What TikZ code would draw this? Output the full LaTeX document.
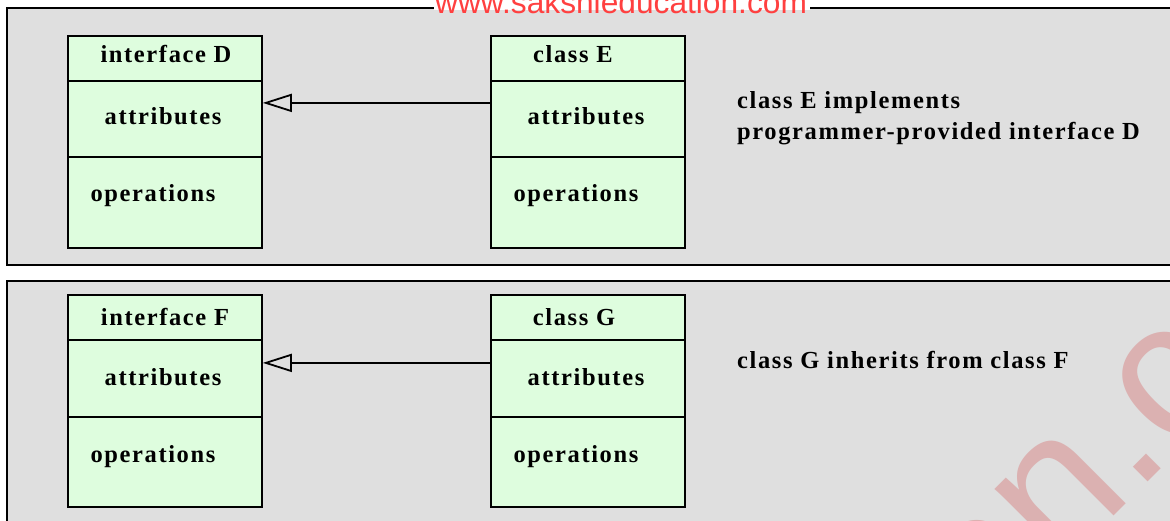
\documentclass[tikz,border=0pt]{standalone}
\usepackage{fontspec}
\setmainfont{Liberation Serif}
\newfontfamily\umlfont{Liberation Serif Bold}[LetterSpace=6.6]
\newfontfamily\wmfont{Liberation Sans}
\usetikzlibrary{arrows.meta}
\definecolor{panelgray}{RGB}{223,223,223}
\definecolor{boxgreen}{RGB}{222,253,222}
\definecolor{wmred}{RGB}{255,64,64}
\definecolor{wmpink}{RGB}{219,177,177}
\tikzset{
  panel/.style={draw=black, line width=2pt, fill=panelgray},
  umlbox/.style={draw=black, line width=1.8pt, fill=boxgreen, rectangle,
    minimum width=194pt, minimum height=212pt, anchor=north west, inner sep=0pt},
  sepline/.style={line width=1.8pt},
  lbl/.style={font=\umlfont\fontsize{24.5}{31}\selectfont, inner sep=0pt},
  note/.style={lbl, anchor=base west, align=left},
  realize/.style={line width=1.8pt, -{Triangle[open, length=29pt, width=18pt]}},
}
\begin{document}
\begin{tikzpicture}[x=1pt, y=-1pt]
\useasboundingbox (0,0) rectangle (1170,521);
% panels
\draw[panel] (7,8) rectangle (1190,265);
\draw[panel] (7,281) rectangle (1190,540);
% top watermark
\fill[white] (434,0) rectangle (810,9.6);
\node[anchor=base west, inner sep=0pt, text=wmred, font=\wmfont\fontsize{31.7}{34}\selectfont] (wmtop) at (435,14) {www.sakshieducation.com};
% big diagonal watermark
\coordinate (wmp) at (1135.5,494.9);
\node[anchor=base east, rotate=45, inner sep=0pt, text=wmpink, font=\wmfont\fontsize{195}{200}\selectfont] (wma) at (wmp) {www.sakshieducation};
\node[anchor=base west, rotate=45, inner sep=0pt, text=wmpink, font=\wmfont\fontsize{195}{200}\selectfont] (wmb) at (wmp) {.com};
% top boxes
\node[umlbox] (D) at (67,35) {};
\node[umlbox] (E) at (490,35) {};
\foreach \b in {D,E}{
  \draw[sepline] ([yshift=-46pt]\b.north west) -- ([yshift=-46pt]\b.north east);
  \draw[sepline] ([yshift=-122pt]\b.north west) -- ([yshift=-122pt]\b.north east);
}
\node[lbl, anchor=base] (Dn) at (166,63) {interface D};
\node[lbl, anchor=base] (Da) at (163,125) {attributes};
\node[lbl, anchor=base] (Do) at (153,202) {operations};
\node[lbl, anchor=base] (En) at (573,63) {class E};
\node[lbl, anchor=base] (Ea) at (586,125) {attributes};
\node[lbl, anchor=base] (Eo) at (576,202) {operations};
\draw[realize] ([yshift=39pt]E.west) -- ([yshift=39pt]D.east);
\node[note] (n1) at (737,109) {class E implements};
\node[note] (n2) at (737,140) {programmer-provided interface D};
% bottom boxes
\node[umlbox] (F) at (67,294) {};
\node[umlbox] (G) at (490,294) {};
\foreach \b in {F,G}{
  \draw[sepline] ([yshift=-46pt]\b.north west) -- ([yshift=-46pt]\b.north east);
  \draw[sepline] ([yshift=-123pt]\b.north west) -- ([yshift=-123pt]\b.north east);
}
\node[lbl, anchor=base] (Fn) at (165,326) {interface F};
\node[lbl, anchor=base] (Fa) at (163,385) {attributes};
\node[lbl, anchor=base] (Fo) at (153,462) {operations};
\node[lbl, anchor=base] (Gn) at (574,326) {class G};
\node[lbl, anchor=base] (Ga) at (586,385) {attributes};
\node[lbl, anchor=base] (Go) at (576,462) {operations};
\draw[realize] ([yshift=38pt]G.west) -- ([yshift=38pt]F.east);
\node[note] (n3) at (737,368) {class G inherits from class F};
\end{tikzpicture}
\end{document}
